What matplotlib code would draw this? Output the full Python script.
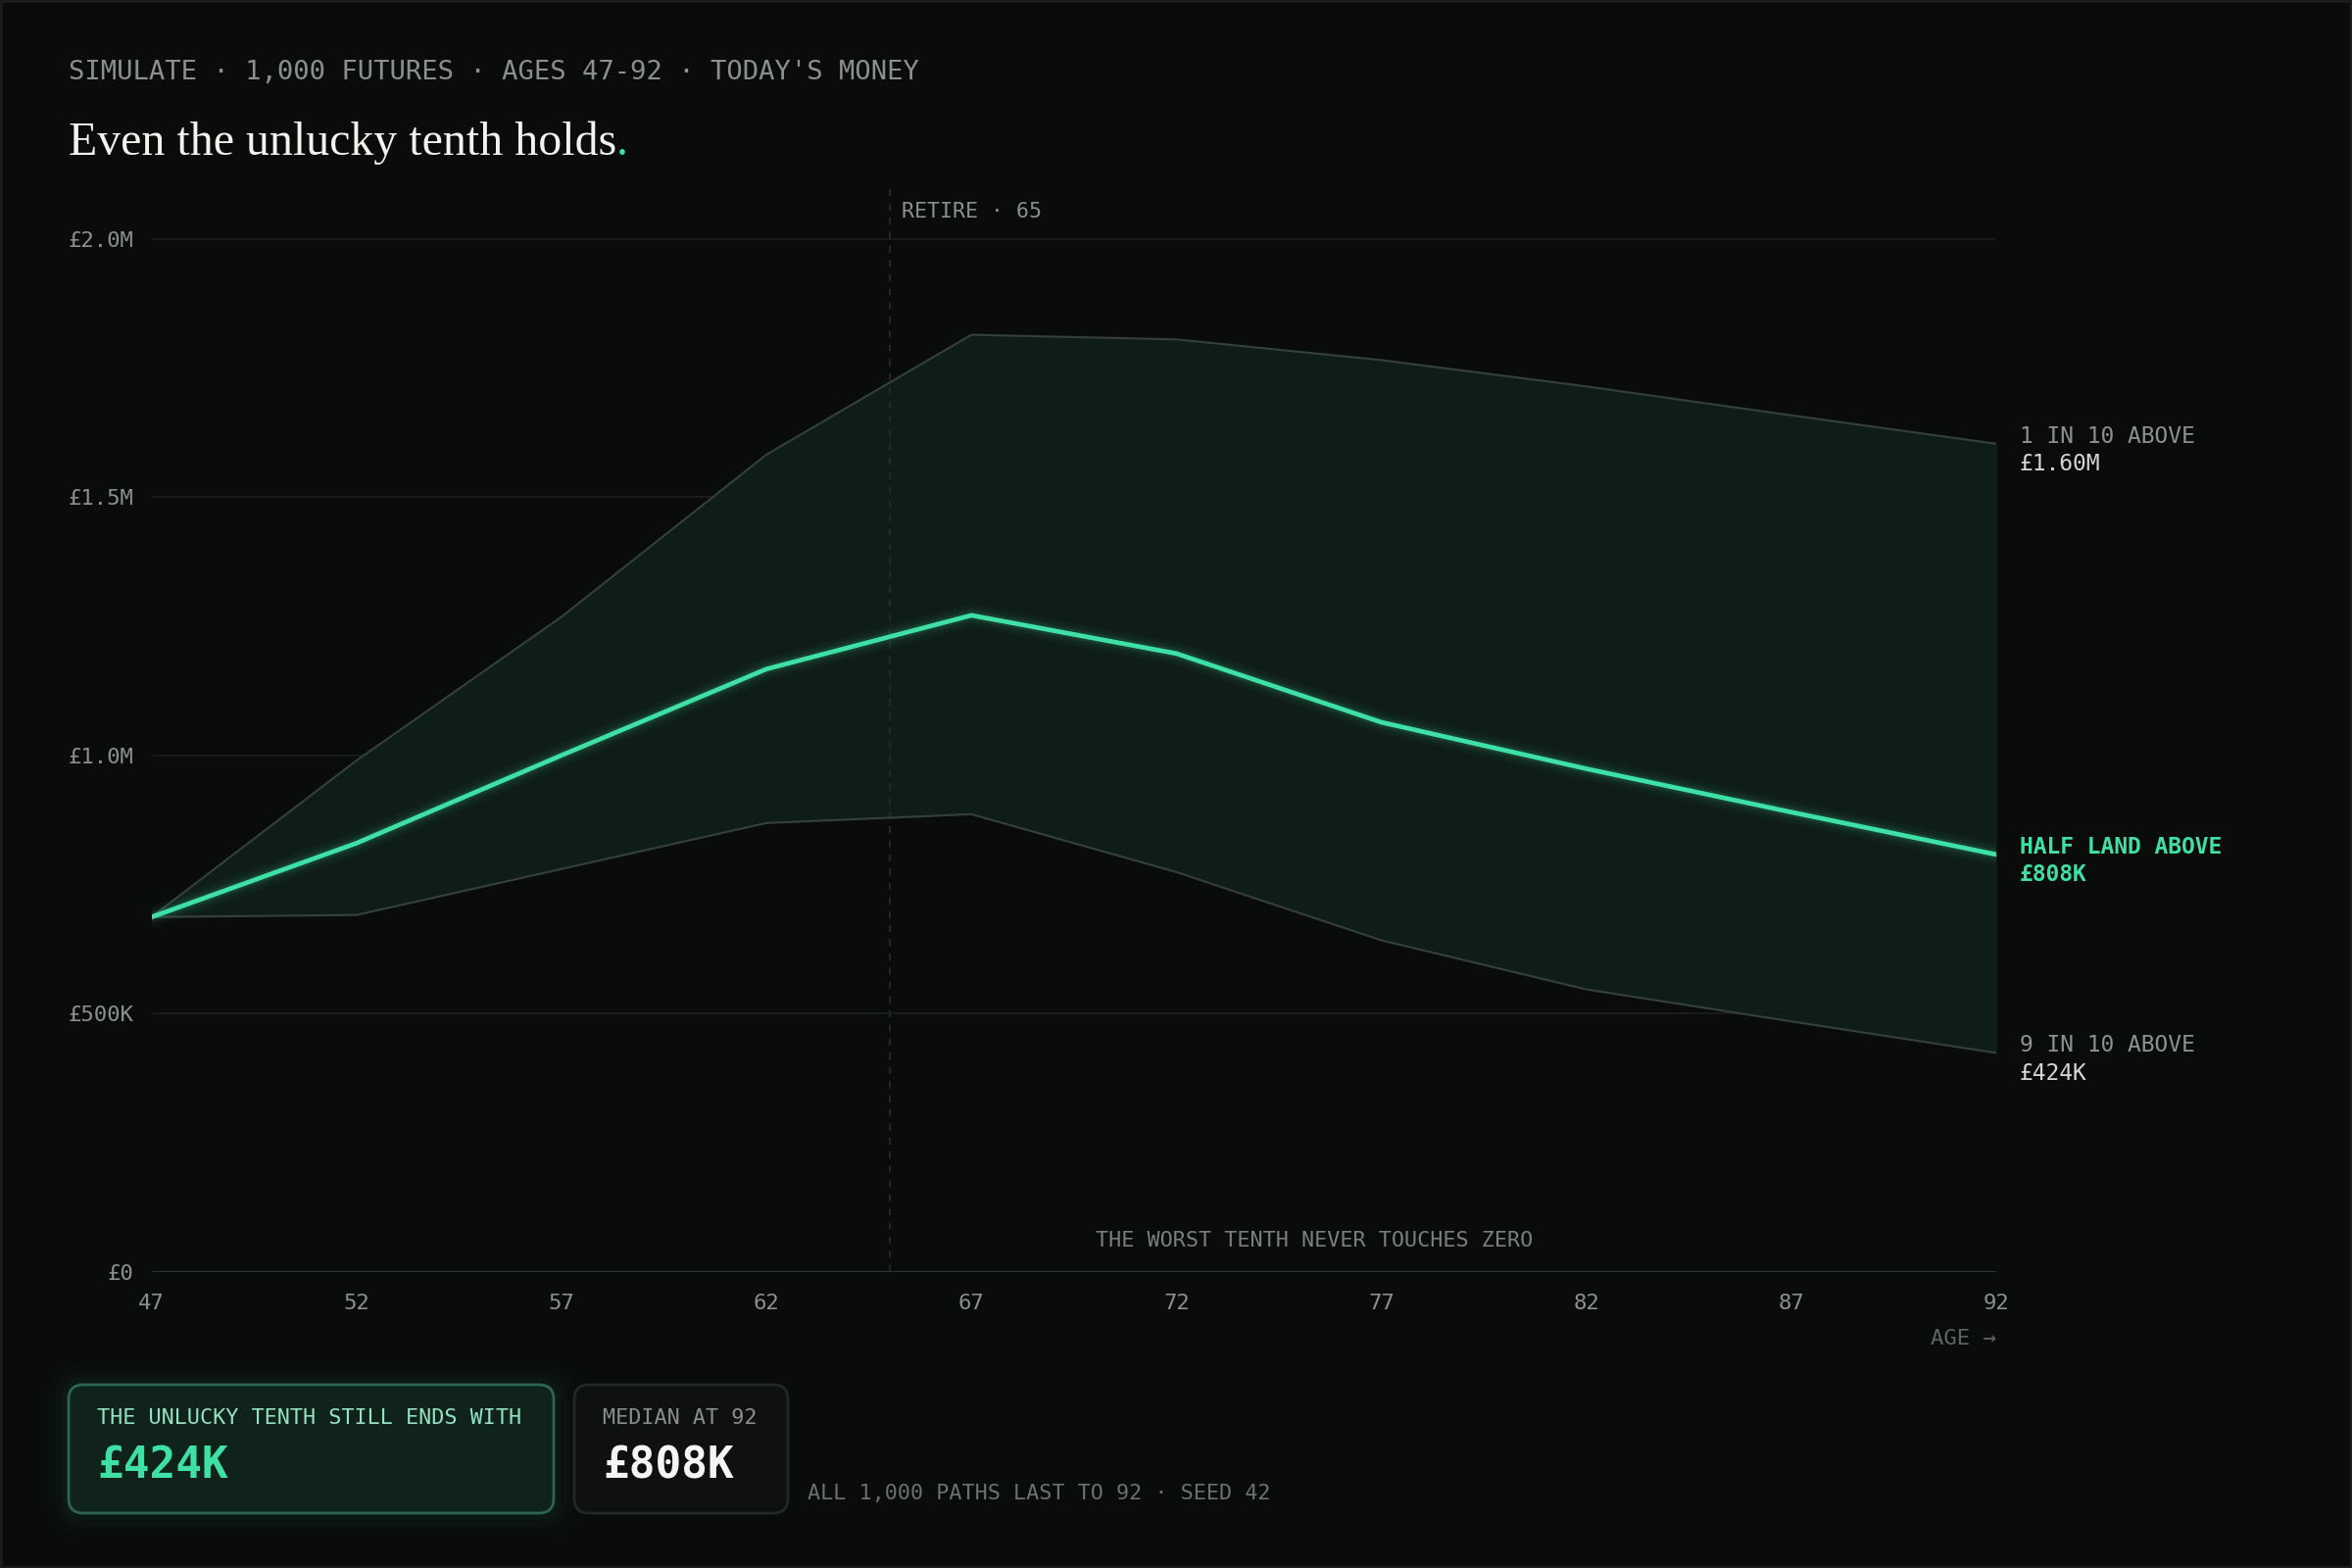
import matplotlib
matplotlib.use("Agg")
import matplotlib.pyplot as plt
from matplotlib.patches import FancyBboxPatch, Rectangle

# percentile paths, £ millions, today's money
ages = [47, 52, 57, 62, 67, 72, 77, 82, 87, 92]
p90 = [0.687, 0.990, 1.268, 1.582, 1.814, 1.805, 1.765, 1.714, 1.658, 1.603]
p50 = [0.687, 0.830, 1.000, 1.167, 1.271, 1.197, 1.064, 0.974, 0.890, 0.808]
p10 = [0.687, 0.691, 0.780, 0.869, 0.886, 0.774, 0.642, 0.547, 0.485, 0.424]
yticks = [0, 0.5, 1.0, 1.5, 2.0]
ytick_labels = ["£0", "£500K", "£1.0M", "£1.5M", "£2.0M"]
retire_age = 65
end_labels = [("1 IN 10 ABOVE", "£1.60M"), ("HALF LAND ABOVE", "£808K"), ("9 IN 10 ABOVE", "£424K")]

BG = "#0a0c0c"
GREEN = "#3ee0a6"
FILL = "#0f1d19"
EDGE = "#35403c"
MUTED = "#8b908d"
MONO = "DejaVu Sans Mono"

fig = plt.figure(figsize=(24, 16), dpi=100, facecolor=BG)

# overlay in pixel coords for header, cards, footnote
ov = fig.add_axes([0, 0, 1, 1], zorder=0)
ov.set_xlim(0, 2400)
ov.set_ylim(1600, 0)
ov.axis("off")
ov.add_patch(Rectangle((1, 1), 2398, 1598, fill=False, ec="#1b1e1d", lw=2))

ov.text(70, 74, "SIMULATE · 1,000 FUTURES · AGES 47-92 · TODAY'S MONEY",
        family=MONO, fontsize=19.5, color=MUTED, va="center", ha="left")
title = ov.text(70, 158, "Even the unlucky tenth holds", family="Liberation Serif",
                fontsize=34.5, color="#f2f2ee", va="baseline", ha="left")
ov.annotate(".", xy=(1, 0), xycoords=title, va="bottom", ha="left",
            family="Liberation Serif", fontsize=34.5, color=GREEN)

# chart
ax = fig.add_axes([0.0644, 0.18875, 0.7844, 0.692], zorder=1)
ax.set_facecolor("none")
ax.set_xlim(ages[0], ages[-1])
ax.set_ylim(0, 2.1)
for s in ax.spines.values():
    s.set_visible(False)

for y in yticks[1:]:
    ax.axhline(y, color="#191e1d", lw=1.3, zorder=0)
ax.axhline(0, color="#2e3533", lw=2.2, zorder=0)

ax.fill_between(ages, p10, p90, color=FILL, lw=0, zorder=1)
ax.plot(ages, p90, color=EDGE, lw=1.5, zorder=2)
ax.plot(ages, p10, color=EDGE, lw=1.5, zorder=2)

ax.axvline(retire_age, color="#252b29", lw=1.3, ls=(0, (4, 4)), zorder=1.5)
ax.annotate("RETIRE · 65", xy=(retire_age, 2.052), xytext=(9, 0), textcoords="offset points",
            family=MONO, fontsize=15.5, color=MUTED, va="center", ha="left", annotation_clip=False)

for lw, a in [(16, 0.03), (11, 0.05), (7, 0.10)]:
    ax.plot(ages, p50, color=GREEN, lw=lw, alpha=a, solid_capstyle="round", zorder=3)
ax.plot(ages, p50, color=GREEN, lw=3.4, solid_capstyle="round", zorder=4)

ax.set_yticks(yticks, ytick_labels)
ax.set_xticks(ages, [str(a) for a in ages])
ax.tick_params(length=0, colors=MUTED, labelsize=16, pad=13)
ax.tick_params(axis="x", pad=16)
for lab in ax.get_xticklabels() + ax.get_yticklabels():
    lab.set_family(MONO)

ax.text(75.37, 0.061, "THE WORST TENTH NEVER TOUCHES ZERO", family=MONO, fontsize=15.7,
        color="#7a7f7c", ha="center", va="center")

# end-of-path labels
ends = [p90[-1], p50[-1], p10[-1]]
styles = [("#8d928f", "#d4d7d5", "normal"), (GREEN, GREEN, "bold"), ("#8d928f", "#d4d7d5", "normal")]
for (top, val), v, (c1, c2, w) in zip(end_labels, ends, styles):
    ax.annotate(top, xy=(ages[-1], v), xytext=(17, 5.5), textcoords="offset points",
                family=MONO, fontsize=16.5, color=c1, weight=w, va="center", ha="left",
                annotation_clip=False)
    ax.annotate(val, xy=(ages[-1], v), xytext=(17, -15), textcoords="offset points",
                family=MONO, fontsize=16.5, color=c2, weight=w, va="center", ha="left",
                annotation_clip=False)

ov.text(2037, 1366, "AGE →", family=MONO, fontsize=16, color="#5f6562", ha="right", va="center")

# cards
for grow, a in [(22, 0.012), (14, 0.02), (7, 0.03)]:
    ov.add_patch(FancyBboxPatch((70 - grow, 1413 - grow), 495 + 2 * grow, 131 + 2 * grow,
                                boxstyle=f"round,pad=0,rounding_size={15 + grow}",
                                fc=GREEN, ec="none", alpha=a))
ov.add_patch(FancyBboxPatch((70, 1413), 495, 131, boxstyle="round,pad=0,rounding_size=15",
                            fc="#0f231c", ec="#2c6650", lw=2))
ov.add_patch(FancyBboxPatch((586, 1413), 218, 131, boxstyle="round,pad=0,rounding_size=15",
                            fc="#0e1110", ec="#222826", lw=2))

ov.text(99, 1447, "THE UNLUCKY TENTH STILL ENDS WITH", family=MONO, fontsize=15.7,
        color="#93e3c3", va="center", ha="left")
ov.text(99, 1496, "£424K", family=MONO, fontsize=32, weight="bold", color=GREEN,
        va="center", ha="left")
ov.text(615, 1447, "MEDIAN AT 92", family=MONO, fontsize=15.7, color="#8a8f8c",
        va="center", ha="left")
ov.text(615, 1496, "£808K", family=MONO, fontsize=32, weight="bold", color="#f4f4f2",
        va="center", ha="left")
ov.text(824, 1524, "ALL 1,000 PATHS LAST TO 92 · SEED 42", family=MONO, fontsize=15.7,
        color="#6b716e", va="center", ha="left")

fig.savefig("out.png", dpi=100, facecolor=BG)
